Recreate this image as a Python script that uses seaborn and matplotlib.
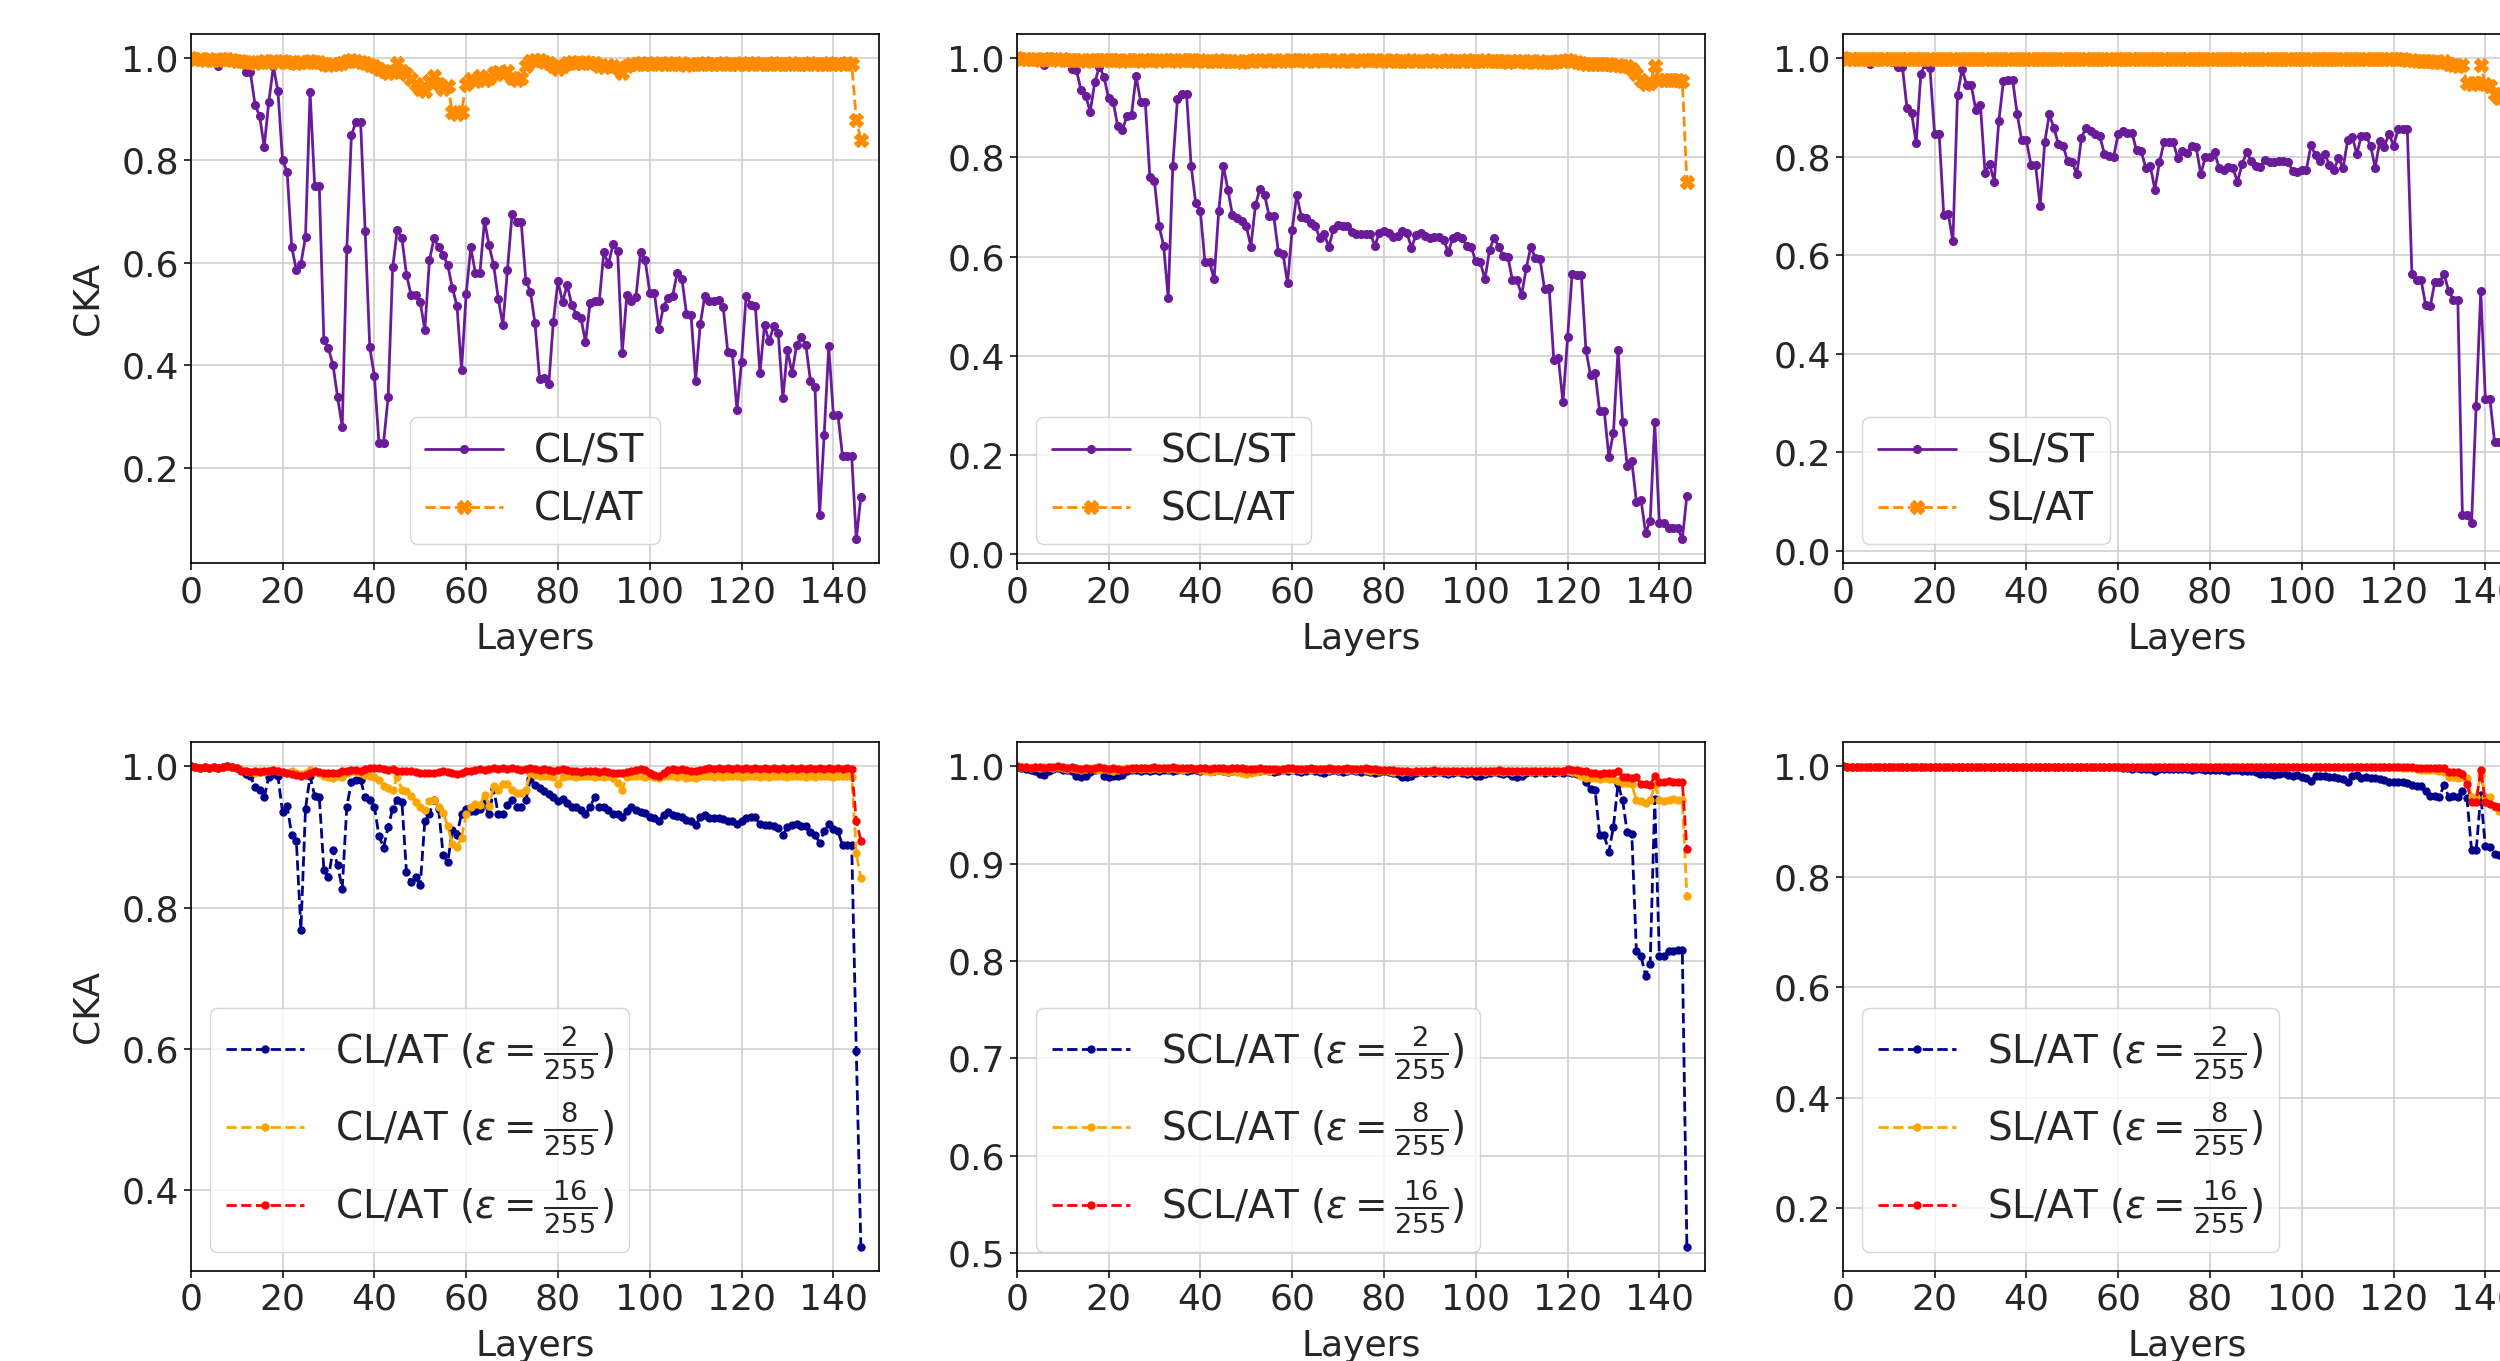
import numpy as np
import matplotlib
matplotlib.use("Agg")
import matplotlib.pyplot as plt
import seaborn as sns

# -------------------------
# DATA (CKA per layer, layers 0..146)
# -------------------------
layers = np.arange(147)

cl_st = [
    1.000, 0.998, 0.997, 0.998, 0.996, 0.997, 0.985, 0.996, 0.995, 0.996,
    0.994, 0.993, 0.973, 0.972, 0.909, 0.887, 0.827, 0.914, 0.984, 0.935,
    0.800, 0.778, 0.631, 0.586, 0.598, 0.651, 0.934, 0.750, 0.750, 0.449,
    0.433, 0.400, 0.337, 0.280, 0.627, 0.849, 0.876, 0.876, 0.663, 0.435,
    0.379, 0.248, 0.248, 0.337, 0.591, 0.665, 0.648, 0.577, 0.537, 0.537,
    0.523, 0.469, 0.605, 0.648, 0.630, 0.616, 0.595, 0.551, 0.516, 0.391,
    0.539, 0.630, 0.581, 0.581, 0.682, 0.634, 0.595, 0.530, 0.479, 0.586,
    0.696, 0.679, 0.679, 0.565, 0.544, 0.482, 0.373, 0.376, 0.363, 0.485,
    0.565, 0.523, 0.557, 0.518, 0.499, 0.493, 0.445, 0.522, 0.526, 0.525,
    0.621, 0.597, 0.637, 0.623, 0.424, 0.537, 0.525, 0.534, 0.621, 0.605,
    0.542, 0.542, 0.471, 0.514, 0.532, 0.536, 0.581, 0.569, 0.501, 0.498,
    0.370, 0.480, 0.536, 0.525, 0.525, 0.527, 0.514, 0.426, 0.423, 0.312,
    0.407, 0.536, 0.518, 0.516, 0.385, 0.478, 0.447, 0.476, 0.462, 0.335,
    0.430, 0.384, 0.439, 0.456, 0.440, 0.370, 0.358, 0.107, 0.264, 0.437,
    0.303, 0.303, 0.222, 0.222, 0.222, 0.060, 0.143,
]
cl_at = [
    1.000, 0.999, 0.998, 0.997, 0.998, 0.997, 0.996, 0.998, 0.999, 0.997,
    0.995, 0.994, 0.993, 0.992, 0.991, 0.993, 0.994, 0.992, 0.995, 0.993,
    0.994, 0.993, 0.992, 0.991, 0.993, 0.992, 0.995, 0.993, 0.992, 0.988,
    0.987, 0.989, 0.988, 0.990, 0.994, 0.996, 0.995, 0.993, 0.991, 0.987,
    0.985, 0.978, 0.975, 0.970, 0.972, 0.990, 0.975, 0.968, 0.960, 0.950,
    0.940, 0.935, 0.955, 0.965, 0.950, 0.940, 0.945, 0.895, 0.890, 0.895,
    0.950, 0.960, 0.955, 0.965, 0.958, 0.962, 0.970, 0.972, 0.968, 0.975,
    0.962, 0.958, 0.962, 0.985, 0.995, 0.997, 0.996, 0.993, 0.990, 0.985,
    0.978, 0.985, 0.990, 0.992, 0.991, 0.990, 0.992, 0.991, 0.990, 0.985,
    0.983, 0.986, 0.984, 0.980, 0.970, 0.985, 0.988, 0.989, 0.990, 0.988,
    0.989, 0.990, 0.988, 0.989, 0.990, 0.989, 0.988, 0.990, 0.987, 0.989,
    0.988, 0.989, 0.990, 0.989, 0.988, 0.989, 0.990, 0.989, 0.988, 0.989,
    0.990, 0.989, 0.988, 0.990, 0.989, 0.988, 0.989, 0.990, 0.989, 0.988,
    0.989, 0.990, 0.989, 0.988, 0.989, 0.990, 0.989, 0.988, 0.989, 0.990,
    0.989, 0.988, 0.989, 0.990, 0.989, 0.880, 0.840,
]
scl_st = [
    1.000, 0.998, 0.997, 0.998, 0.996, 0.997, 0.987, 0.996, 0.995, 0.996,
    0.994, 0.992, 0.978, 0.976, 0.935, 0.924, 0.892, 0.951, 0.983, 0.962,
    0.920, 0.912, 0.863, 0.855, 0.883, 0.886, 0.963, 0.912, 0.912, 0.760,
    0.752, 0.662, 0.622, 0.516, 0.783, 0.917, 0.927, 0.927, 0.782, 0.707,
    0.691, 0.589, 0.589, 0.554, 0.691, 0.783, 0.735, 0.683, 0.678, 0.672,
    0.662, 0.620, 0.703, 0.737, 0.724, 0.681, 0.681, 0.609, 0.606, 0.546,
    0.654, 0.724, 0.680, 0.678, 0.667, 0.662, 0.638, 0.645, 0.619, 0.656,
    0.663, 0.661, 0.661, 0.649, 0.645, 0.645, 0.646, 0.646, 0.622, 0.647,
    0.651, 0.647, 0.639, 0.642, 0.651, 0.647, 0.618, 0.643, 0.647, 0.642,
    0.637, 0.639, 0.639, 0.634, 0.609, 0.637, 0.642, 0.637, 0.622, 0.619,
    0.590, 0.588, 0.554, 0.613, 0.638, 0.619, 0.602, 0.599, 0.552, 0.552,
    0.522, 0.577, 0.619, 0.597, 0.595, 0.534, 0.536, 0.391, 0.395, 0.306,
    0.437, 0.565, 0.563, 0.563, 0.412, 0.361, 0.366, 0.288, 0.288, 0.196,
    0.245, 0.412, 0.266, 0.178, 0.187, 0.106, 0.110, 0.043, 0.066, 0.266,
    0.062, 0.062, 0.053, 0.053, 0.053, 0.030, 0.118,
]
scl_at = [
    1.000, 0.999, 0.998, 0.999, 0.998, 0.997, 0.998, 0.999, 0.998, 0.997,
    0.998, 0.997, 0.996, 0.997, 0.996, 0.995, 0.996, 0.997, 0.996, 0.997,
    0.996, 0.997, 0.996, 0.995, 0.996, 0.997, 0.996, 0.995, 0.996, 0.997,
    0.996, 0.995, 0.996, 0.997, 0.996, 0.995, 0.996, 0.997, 0.996, 0.995,
    0.996, 0.995, 0.994, 0.995, 0.996, 0.995, 0.994, 0.995, 0.994, 0.993,
    0.994, 0.995, 0.996, 0.995, 0.996, 0.995, 0.996, 0.995, 0.996, 0.995,
    0.996, 0.997, 0.996, 0.995, 0.996, 0.995, 0.996, 0.997, 0.996, 0.995,
    0.996, 0.995, 0.996, 0.995, 0.996, 0.995, 0.996, 0.997, 0.996, 0.995,
    0.996, 0.995, 0.996, 0.995, 0.994, 0.995, 0.996, 0.995, 0.994, 0.995,
    0.996, 0.995, 0.994, 0.995, 0.996, 0.995, 0.994, 0.995, 0.996, 0.995,
    0.994, 0.995, 0.996, 0.995, 0.994, 0.995, 0.994, 0.993, 0.994, 0.995,
    0.994, 0.993, 0.994, 0.993, 0.994, 0.993, 0.992, 0.993, 0.994, 0.995,
    0.996, 0.994, 0.993, 0.990, 0.989, 0.988, 0.989, 0.988, 0.989, 0.988,
    0.987, 0.986, 0.985, 0.984, 0.978, 0.968, 0.955, 0.948, 0.950, 0.984,
    0.955, 0.956, 0.955, 0.956, 0.955, 0.954, 0.751,
]
sl_st = [
    1.000, 0.998, 0.997, 0.998, 0.996, 0.997, 0.989, 0.996, 0.995, 0.996,
    0.994, 0.993, 0.982, 0.982, 0.898, 0.888, 0.828, 0.967, 0.989, 0.980,
    0.847, 0.847, 0.682, 0.684, 0.628, 0.925, 0.978, 0.945, 0.945, 0.894,
    0.904, 0.767, 0.785, 0.749, 0.872, 0.953, 0.956, 0.956, 0.887, 0.833,
    0.833, 0.784, 0.784, 0.700, 0.829, 0.886, 0.858, 0.825, 0.822, 0.791,
    0.789, 0.764, 0.838, 0.859, 0.852, 0.847, 0.842, 0.806, 0.801, 0.799,
    0.846, 0.853, 0.849, 0.849, 0.813, 0.812, 0.778, 0.782, 0.733, 0.789,
    0.829, 0.829, 0.829, 0.797, 0.811, 0.808, 0.822, 0.819, 0.765, 0.799,
    0.799, 0.809, 0.777, 0.774, 0.780, 0.777, 0.749, 0.785, 0.809, 0.791,
    0.782, 0.780, 0.793, 0.789, 0.789, 0.791, 0.791, 0.789, 0.771, 0.768,
    0.774, 0.773, 0.823, 0.803, 0.791, 0.806, 0.784, 0.773, 0.797, 0.777,
    0.833, 0.840, 0.806, 0.842, 0.842, 0.822, 0.778, 0.832, 0.820, 0.847,
    0.822, 0.856, 0.856, 0.856, 0.562, 0.550, 0.550, 0.499, 0.497, 0.546,
    0.546, 0.562, 0.528, 0.510, 0.510, 0.073, 0.073, 0.056, 0.295, 0.528,
    0.309, 0.309, 0.222, 0.222, 0.220, 0.024, 0.120,
]
sl_at = [
    1.000, 0.999, 0.999, 0.998, 0.999, 0.999, 0.998, 0.999, 0.999, 0.998,
    0.999, 0.998, 0.999, 0.999, 0.998, 0.999, 0.998, 0.999, 0.999, 0.998,
    0.999, 0.999, 0.998, 0.999, 0.998, 0.999, 0.999, 0.998, 0.999, 0.999,
    0.998, 0.999, 0.999, 0.998, 0.999, 0.998, 0.999, 0.999, 0.998, 0.999,
    0.999, 0.998, 0.999, 0.999, 0.998, 0.999, 0.998, 0.999, 0.999, 0.998,
    0.999, 0.999, 0.998, 0.999, 0.998, 0.999, 0.999, 0.998, 0.999, 0.999,
    0.998, 0.999, 0.999, 0.998, 0.999, 0.998, 0.999, 0.999, 0.998, 0.999,
    0.999, 0.998, 0.999, 0.999, 0.998, 0.999, 0.998, 0.999, 0.999, 0.998,
    0.999, 0.999, 0.998, 0.999, 0.998, 0.999, 0.999, 0.998, 0.999, 0.999,
    0.998, 0.999, 0.999, 0.998, 0.999, 0.998, 0.999, 0.999, 0.998, 0.999,
    0.999, 0.998, 0.999, 0.999, 0.998, 0.999, 0.998, 0.999, 0.999, 0.998,
    0.999, 0.999, 0.998, 0.999, 0.998, 0.999, 0.999, 0.998, 0.999, 0.999,
    0.999, 0.998, 0.998, 0.997, 0.996, 0.995, 0.995, 0.994, 0.994, 0.993,
    0.992, 0.995, 0.988, 0.985, 0.984, 0.985, 0.950, 0.948, 0.950, 0.985,
    0.948, 0.944, 0.928, 0.920, 0.918, 0.900, 0.780,
]

cl_at2 = [
    1.000, 0.999, 0.998, 0.999, 0.998, 0.999, 0.998, 0.999, 1.000, 0.999,
    0.998, 0.995, 0.989, 0.986, 0.971, 0.967, 0.956, 0.985, 0.989, 0.986,
    0.935, 0.944, 0.903, 0.895, 0.769, 0.940, 0.986, 0.958, 0.957, 0.854,
    0.843, 0.882, 0.860, 0.827, 0.943, 0.978, 0.981, 0.981, 0.956, 0.952,
    0.943, 0.902, 0.885, 0.914, 0.940, 0.953, 0.950, 0.850, 0.836, 0.843,
    0.832, 0.923, 0.933, 0.953, 0.939, 0.874, 0.865, 0.910, 0.903, 0.933,
    0.940, 0.937, 0.937, 0.940, 0.948, 0.932, 0.968, 0.932, 0.932, 0.945,
    0.952, 0.942, 0.943, 0.952, 0.982, 0.974, 0.969, 0.965, 0.961, 0.956,
    0.951, 0.954, 0.948, 0.942, 0.942, 0.938, 0.933, 0.943, 0.956, 0.943,
    0.942, 0.938, 0.933, 0.933, 0.928, 0.937, 0.943, 0.938, 0.935, 0.934,
    0.929, 0.927, 0.923, 0.931, 0.936, 0.931, 0.930, 0.929, 0.924, 0.922,
    0.917, 0.928, 0.931, 0.927, 0.927, 0.927, 0.925, 0.923, 0.922, 0.918,
    0.923, 0.927, 0.928, 0.928, 0.918, 0.917, 0.917, 0.915, 0.913, 0.903,
    0.914, 0.917, 0.918, 0.915, 0.915, 0.907, 0.903, 0.892, 0.908, 0.918,
    0.912, 0.908, 0.888, 0.888, 0.888, 0.597, 0.320,
]
cl_at8 = [
    1.000, 0.999, 0.998, 0.999, 0.998, 0.999, 0.998, 0.999, 1.000, 0.999,
    0.997, 0.995, 0.993, 0.992, 0.991, 0.993, 0.992, 0.994, 0.995, 0.993,
    0.992, 0.991, 0.993, 0.990, 0.989, 0.990, 0.995, 0.992, 0.990, 0.986,
    0.985, 0.984, 0.986, 0.985, 0.990, 0.993, 0.992, 0.990, 0.988, 0.987,
    0.985, 0.980, 0.972, 0.970, 0.967, 0.985, 0.967, 0.965, 0.958, 0.950,
    0.942, 0.938, 0.951, 0.953, 0.942, 0.934, 0.915, 0.890, 0.886, 0.899,
    0.932, 0.943, 0.947, 0.945, 0.960, 0.944, 0.972, 0.966, 0.975, 0.975,
    0.966, 0.962, 0.962, 0.967, 0.990, 0.988, 0.987, 0.986, 0.987, 0.985,
    0.975, 0.985, 0.987, 0.986, 0.985, 0.986, 0.987, 0.986, 0.985, 0.986,
    0.985, 0.986, 0.984, 0.977, 0.967, 0.985, 0.986, 0.987, 0.986, 0.985,
    0.986, 0.985, 0.984, 0.986, 0.987, 0.986, 0.985, 0.986, 0.984, 0.985,
    0.984, 0.986, 0.987, 0.986, 0.985, 0.986, 0.985, 0.986, 0.987, 0.986,
    0.985, 0.986, 0.987, 0.986, 0.985, 0.986, 0.985, 0.986, 0.987, 0.986,
    0.985, 0.986, 0.987, 0.986, 0.985, 0.986, 0.985, 0.986, 0.987, 0.986,
    0.985, 0.986, 0.987, 0.986, 0.985, 0.877, 0.842,
]
cl_at16 = [
    1.000, 0.999, 0.998, 0.999, 0.998, 0.999, 0.998, 0.999, 1.000, 0.999,
    0.997, 0.994, 0.993, 0.992, 0.993, 0.992, 0.993, 0.994, 0.995, 0.993,
    0.992, 0.990, 0.989, 0.988, 0.987, 0.988, 0.991, 0.993, 0.992, 0.990,
    0.991, 0.990, 0.991, 0.993, 0.994, 0.995, 0.995, 0.994, 0.996, 0.997,
    0.998, 0.997, 0.996, 0.995, 0.996, 0.994, 0.993, 0.994, 0.993, 0.992,
    0.991, 0.990, 0.991, 0.990, 0.992, 0.993, 0.992, 0.990, 0.989, 0.991,
    0.993, 0.994, 0.995, 0.996, 0.995, 0.996, 0.997, 0.996, 0.997, 0.996,
    0.997, 0.996, 0.995, 0.996, 0.997, 0.996, 0.995, 0.996, 0.995, 0.994,
    0.995, 0.996, 0.995, 0.994, 0.993, 0.992, 0.993, 0.994, 0.993, 0.992,
    0.993, 0.992, 0.991, 0.990, 0.991, 0.992, 0.993, 0.995, 0.996, 0.995,
    0.990, 0.988, 0.987, 0.990, 0.995, 0.996, 0.995, 0.996, 0.995, 0.994,
    0.993, 0.995, 0.996, 0.997, 0.996, 0.997, 0.996, 0.997, 0.996, 0.997,
    0.996, 0.997, 0.996, 0.997, 0.996, 0.997, 0.996, 0.997, 0.996, 0.997,
    0.996, 0.997, 0.996, 0.997, 0.996, 0.997, 0.996, 0.997, 0.996, 0.997,
    0.996, 0.997, 0.996, 0.997, 0.996, 0.923, 0.895,
]
scl_at2 = [
    0.999, 0.998, 0.997, 0.996, 0.995, 0.992, 0.991, 0.995, 0.997, 0.998,
    0.996, 0.996, 0.995, 0.990, 0.989, 0.990, 0.994, 0.996, 0.997, 0.990,
    0.989, 0.990, 0.990, 0.991, 0.995, 0.996, 0.996, 0.995, 0.996, 0.995,
    0.996, 0.995, 0.996, 0.996, 0.995, 0.996, 0.996, 0.995, 0.996, 0.996,
    0.995, 0.996, 0.996, 0.995, 0.996, 0.995, 0.994, 0.995, 0.996, 0.995,
    0.994, 0.995, 0.996, 0.995, 0.996, 0.995, 0.994, 0.995, 0.996, 0.995,
    0.996, 0.995, 0.994, 0.995, 0.996, 0.995, 0.994, 0.993, 0.995, 0.996,
    0.995, 0.994, 0.995, 0.996, 0.995, 0.994, 0.995, 0.994, 0.993, 0.994,
    0.995, 0.994, 0.993, 0.992, 0.989, 0.989, 0.990, 0.993, 0.994, 0.993,
    0.994, 0.993, 0.994, 0.993, 0.992, 0.993, 0.994, 0.993, 0.992, 0.993,
    0.990, 0.990, 0.992, 0.993, 0.994, 0.993, 0.992, 0.993, 0.990, 0.989,
    0.990, 0.993, 0.994, 0.993, 0.994, 0.993, 0.994, 0.993, 0.994, 0.993,
    0.994, 0.993, 0.992, 0.991, 0.984, 0.977, 0.976, 0.929, 0.929, 0.912,
    0.938, 0.982, 0.965, 0.932, 0.930, 0.810, 0.805, 0.785, 0.797, 0.966,
    0.805, 0.805, 0.810, 0.810, 0.811, 0.811, 0.506,
]
scl_at8 = [
    1.000, 0.999, 0.999, 0.998, 0.999, 0.998, 0.999, 0.999, 0.998, 0.999,
    0.998, 0.997, 0.998, 0.997, 0.996, 0.997, 0.998, 0.997, 0.996, 0.997,
    0.996, 0.995, 0.996, 0.997, 0.998, 0.997, 0.998, 0.997, 0.998, 0.997,
    0.998, 0.997, 0.998, 0.997, 0.998, 0.997, 0.996, 0.997, 0.998, 0.997,
    0.996, 0.995, 0.994, 0.995, 0.996, 0.995, 0.994, 0.995, 0.994, 0.993,
    0.992, 0.993, 0.994, 0.995, 0.996, 0.995, 0.996, 0.997, 0.996, 0.997,
    0.996, 0.997, 0.996, 0.997, 0.996, 0.997, 0.996, 0.997, 0.996, 0.997,
    0.996, 0.997, 0.996, 0.997, 0.996, 0.997, 0.996, 0.995, 0.996, 0.995,
    0.996, 0.995, 0.994, 0.995, 0.994, 0.995, 0.994, 0.995, 0.994, 0.995,
    0.994, 0.995, 0.994, 0.995, 0.994, 0.995, 0.994, 0.995, 0.994, 0.995,
    0.994, 0.995, 0.994, 0.995, 0.994, 0.995, 0.994, 0.995, 0.994, 0.995,
    0.994, 0.995, 0.994, 0.995, 0.994, 0.995, 0.994, 0.995, 0.994, 0.995,
    0.995, 0.994, 0.993, 0.990, 0.988, 0.988, 0.988, 0.987, 0.988, 0.987,
    0.987, 0.985, 0.983, 0.983, 0.982, 0.965, 0.964, 0.962, 0.965, 0.981,
    0.965, 0.964, 0.965, 0.966, 0.965, 0.965, 0.867,
]
scl_at16 = [
    1.000, 0.999, 0.999, 0.998, 0.999, 0.999, 0.998, 0.999, 0.999, 1.000,
    0.999, 0.998, 0.999, 0.998, 0.997, 0.998, 0.997, 0.998, 0.999, 0.998,
    0.997, 0.998, 0.997, 0.996, 0.997, 0.998, 0.998, 0.998, 0.998, 0.998,
    0.999, 0.998, 0.998, 0.998, 0.999, 0.998, 0.998, 0.998, 0.998, 0.997,
    0.998, 0.998, 0.997, 0.998, 0.998, 0.998, 0.997, 0.998, 0.998, 0.998,
    0.997, 0.997, 0.997, 0.998, 0.997, 0.997, 0.997, 0.996, 0.997, 0.998,
    0.998, 0.997, 0.997, 0.997, 0.998, 0.997, 0.997, 0.997, 0.998, 0.997,
    0.997, 0.997, 0.998, 0.997, 0.997, 0.997, 0.998, 0.997, 0.997, 0.996,
    0.996, 0.996, 0.996, 0.995, 0.995, 0.995, 0.994, 0.995, 0.995, 0.995,
    0.995, 0.996, 0.995, 0.995, 0.995, 0.995, 0.995, 0.995, 0.995, 0.995,
    0.995, 0.995, 0.995, 0.995, 0.995, 0.996, 0.995, 0.995, 0.995, 0.995,
    0.995, 0.995, 0.995, 0.995, 0.995, 0.995, 0.995, 0.995, 0.995, 0.995,
    0.997, 0.996, 0.996, 0.995, 0.995, 0.993, 0.993, 0.992, 0.993, 0.993,
    0.993, 0.995, 0.989, 0.989, 0.988, 0.989, 0.982, 0.982, 0.981, 0.990,
    0.984, 0.984, 0.985, 0.984, 0.984, 0.984, 0.915,
]
sl_at2 = [
    1.000, 0.999, 0.999, 0.999, 0.999, 0.999, 0.999, 0.999, 0.999, 0.999,
    0.999, 0.999, 0.999, 0.999, 0.999, 0.999, 0.999, 0.999, 0.999, 0.999,
    0.999, 0.999, 0.999, 0.999, 0.999, 0.999, 0.999, 0.999, 0.999, 0.999,
    0.999, 0.999, 0.999, 0.999, 0.999, 0.999, 0.999, 0.999, 0.999, 0.999,
    0.999, 0.999, 0.999, 0.999, 0.999, 0.999, 0.999, 0.999, 0.999, 0.999,
    0.999, 0.999, 0.999, 0.999, 0.998, 0.999, 0.998, 0.998, 0.998, 0.998,
    0.998, 0.997, 0.997, 0.996, 0.997, 0.996, 0.996, 0.995, 0.992, 0.995,
    0.996, 0.996, 0.995, 0.996, 0.995, 0.995, 0.994, 0.995, 0.995, 0.994,
    0.994, 0.993, 0.994, 0.993, 0.992, 0.993, 0.993, 0.992, 0.991, 0.991,
    0.990, 0.987, 0.986, 0.986, 0.985, 0.987, 0.988, 0.984, 0.983, 0.984,
    0.980, 0.978, 0.974, 0.982, 0.983, 0.982, 0.981, 0.980, 0.979, 0.977,
    0.971, 0.982, 0.984, 0.979, 0.980, 0.978, 0.979, 0.977, 0.976, 0.971,
    0.972, 0.971, 0.971, 0.970, 0.966, 0.965, 0.964, 0.955, 0.947, 0.946,
    0.945, 0.966, 0.945, 0.946, 0.945, 0.956, 0.942, 0.848, 0.848, 0.948,
    0.855, 0.854, 0.842, 0.840, 0.840, 0.830, 0.130,
]
sl_at8 = [
    1.000, 0.999, 0.999, 0.999, 0.999, 0.999, 0.999, 0.999, 0.999, 0.999,
    0.999, 0.999, 0.999, 0.999, 0.999, 0.999, 0.999, 0.999, 0.999, 0.999,
    0.999, 0.999, 0.999, 0.999, 0.999, 0.999, 0.999, 0.999, 0.999, 0.999,
    0.999, 0.999, 0.999, 0.999, 0.999, 0.999, 0.999, 0.999, 0.999, 0.999,
    0.999, 0.999, 0.999, 0.999, 0.999, 0.999, 0.999, 0.999, 0.999, 0.999,
    0.999, 0.999, 0.999, 0.999, 0.999, 0.999, 0.999, 0.999, 0.999, 0.999,
    0.999, 0.999, 0.999, 0.999, 0.999, 0.999, 0.999, 0.999, 0.999, 0.999,
    0.999, 0.999, 0.999, 0.999, 0.999, 0.999, 0.999, 0.999, 0.999, 0.999,
    0.999, 0.999, 0.999, 0.999, 0.999, 0.999, 0.999, 0.999, 0.999, 0.999,
    0.999, 0.999, 0.999, 0.999, 0.999, 0.999, 0.999, 0.999, 0.999, 0.999,
    0.999, 0.999, 0.999, 0.999, 0.999, 0.999, 0.999, 0.999, 0.999, 0.999,
    0.999, 0.999, 0.999, 0.999, 0.999, 0.999, 0.999, 0.999, 0.998, 0.998,
    0.998, 0.998, 0.997, 0.997, 0.997, 0.996, 0.994, 0.994, 0.994, 0.993,
    0.992, 0.990, 0.980, 0.980, 0.979, 0.980, 0.978, 0.945, 0.945, 0.984,
    0.945, 0.944, 0.926, 0.920, 0.915, 0.910, 0.870,
]
sl_at16 = [
    1.000, 0.999, 0.999, 0.999, 0.999, 0.999, 0.999, 0.999, 0.999, 0.999,
    0.999, 0.999, 0.999, 0.999, 0.999, 0.999, 0.999, 0.999, 0.999, 0.999,
    0.999, 0.999, 0.999, 0.999, 0.999, 0.999, 0.999, 0.999, 0.999, 0.999,
    0.999, 0.999, 0.999, 0.999, 0.999, 0.999, 0.999, 0.999, 0.999, 0.999,
    0.999, 0.999, 0.999, 0.999, 0.999, 0.999, 0.999, 0.999, 0.999, 0.999,
    0.999, 0.999, 0.999, 0.999, 0.999, 0.999, 0.999, 0.999, 0.999, 0.999,
    0.999, 0.999, 0.999, 0.999, 0.999, 0.999, 0.999, 0.999, 0.999, 0.999,
    0.999, 0.999, 0.999, 0.999, 0.999, 0.999, 0.999, 0.999, 0.999, 0.999,
    0.999, 0.999, 0.999, 0.999, 0.999, 0.999, 0.999, 0.999, 0.999, 0.999,
    0.999, 0.999, 0.999, 0.999, 0.999, 0.999, 0.999, 0.999, 0.999, 0.999,
    0.999, 0.999, 0.999, 0.999, 0.999, 0.999, 0.999, 0.999, 0.999, 0.999,
    0.999, 0.999, 0.999, 0.999, 0.999, 0.999, 0.999, 0.999, 0.999, 0.999,
    0.999, 0.999, 0.998, 0.998, 0.998, 0.997, 0.997, 0.997, 0.997, 0.997,
    0.997, 0.997, 0.990, 0.990, 0.989, 0.987, 0.968, 0.935, 0.935, 0.994,
    0.935, 0.932, 0.928, 0.926, 0.925, 0.920, 0.900,
]

methods = ["CL", "SCL", "SL"]
st_series = [cl_st, scl_st, sl_st]
at_series = [cl_at, scl_at, sl_at]
eps_series = [
    [cl_at2, cl_at8, cl_at16],
    [scl_at2, scl_at8, scl_at16],
    [sl_at2, sl_at8, sl_at16],
]
eps_values = [2, 8, 16]
eps_colors = ["darkblue", "orange", "red"]

top_legend_loc = ["lower center", "lower left", "lower left"]
top_yticks = [[0.2, 0.4, 0.6, 0.8, 1.0], [0.0, 0.2, 0.4, 0.6, 0.8, 1.0],
              [0.0, 0.2, 0.4, 0.6, 0.8, 1.0]]
bottom_yticks = [[0.4, 0.6, 0.8, 1.0], [0.5, 0.6, 0.7, 0.8, 0.9, 1.0],
                 [0.2, 0.4, 0.6, 0.8, 1.0]]

PURPLE = "#6a1b9a"
FS = 26
LEG_FS = 28

# -------------------------
# STYLE
# -------------------------
sns.set_style("ticks")
plt.rcParams["font.family"] = ["DejaVu Sans"]
plt.rcParams["mathtext.fontset"] = "dejavusans"

fig, axes = plt.subplots(2, 3, figsize=(25, 13.61), dpi=100)

# axes placement (third column runs past the right edge, as in the source)
col_left = [0.0763, 0.4067, 0.7371]
width = 0.2754
row_box = [(0.5861, 0.3889), (0.0661, 0.3885)]


def style_axis(ax, yticks):
    ax.set_xlim(0, 150)
    ax.set_xticks([0, 20, 40, 60, 80, 100, 120, 140])
    ax.set_yticks(yticks)
    ax.grid(True, color="#cfcfcf", linewidth=1.2)
    ax.set_axisbelow(True)
    ax.tick_params(labelsize=FS, length=5, width=1.1, color="black")
    for sp in ax.spines.values():
        sp.set_color("black")
        sp.set_linewidth(1.2)
    ax.set_xlabel("Layers", fontsize=FS, labelpad=9)


# -------------------------
# TOP ROW: standard vs adversarial training
# -------------------------
for i, name in enumerate(methods):
    ax = axes[0, i]
    ax.set_position([col_left[i], row_box[0][0], width, row_box[0][1]])
    sns.lineplot(x=layers, y=st_series[i], ax=ax, color=PURPLE, marker="o",
                 markersize=5.5, markeredgecolor=PURPLE, markeredgewidth=1,
                 linewidth=2, label=f"{name}/ST")
    sns.lineplot(x=layers, y=at_series[i], ax=ax, color="darkorange",
                 marker="X", markersize=10, markeredgecolor="darkorange",
                 markeredgewidth=1, linestyle="--", linewidth=2,
                 label=f"{name}/AT")
    style_axis(ax, top_yticks[i])
    ax.legend(loc=top_legend_loc[i], fontsize=LEG_FS)
    ax.set_ylabel("CKA" if i == 0 else "", fontsize=FS, labelpad=12)

# -------------------------
# BOTTOM ROW: epsilon sweep
# -------------------------
for i, name in enumerate(methods):
    ax = axes[1, i]
    ax.set_position([col_left[i], row_box[1][0], width, row_box[1][1]])
    for vals, eps, col in zip(eps_series[i], eps_values, eps_colors):
        sns.lineplot(x=layers, y=vals, ax=ax, color=col, marker="o",
                     markersize=5, markeredgecolor=col, markeredgewidth=1,
                     linestyle="--", linewidth=2,
                     label=rf"{name}/AT ($\varepsilon = \frac{{{eps}}}{{255}}$)")
    style_axis(ax, bottom_yticks[i])
    ax.legend(loc="lower left", fontsize=LEG_FS)
    ax.set_ylabel("CKA" if i == 0 else "", fontsize=FS, labelpad=12)

fig.savefig("out.png", dpi=100)
